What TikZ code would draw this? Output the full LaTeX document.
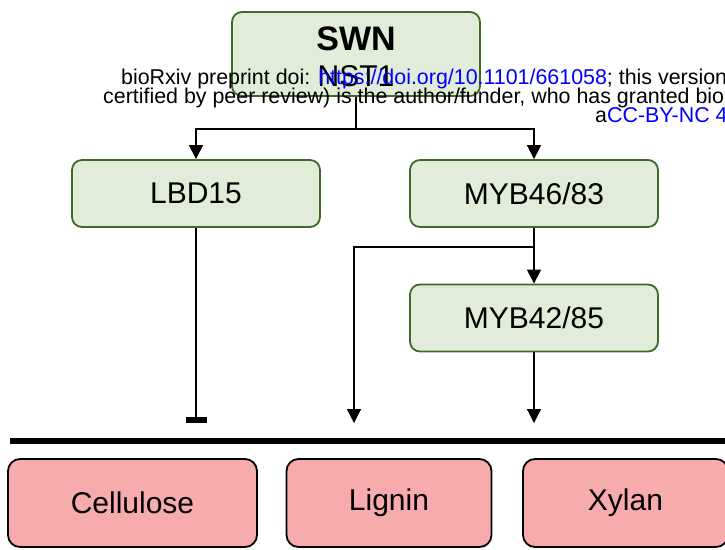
\documentclass[tikz,border=0pt]{standalone}
\usepackage{fontspec}
\setmainfont{Liberation Sans}
\usetikzlibrary{arrows.meta}
\definecolor{gfill}{HTML}{E1EDD9}
\definecolor{gline}{HTML}{3E6A2B}
\definecolor{pfill}{HTML}{F7ABAD}
\definecolor{linkblue}{HTML}{0000FF}
\tikzset{
  gbox/.style={draw=gline, fill=gfill, line width=1.8pt, rounded corners=10pt,
    minimum width=248pt, minimum height=67pt, inner sep=0pt,
    font=\fontsize{30}{36}\selectfont},
  pbox/.style={draw=black, fill=pfill, line width=1.8pt, rounded corners=12pt,
    minimum height=88pt, inner sep=0pt, font=\fontsize{30}{36}\selectfont},
  conn/.style={line width=1.3pt},
  arr/.style={conn, -{Triangle[length=14pt,width=14pt]}},
  inhib/.style={conn, -{Rectangle[length=6pt,width=21pt]}},
  wm/.style={inner sep=0pt, anchor=base west, font=\fontsize{21.4}{24}\selectfont},
}
\begin{document}
\begin{tikzpicture}[x=1pt,y=-1pt]
\useasboundingbox (0,0) rectangle (725,549);
\clip (0,0) rectangle (725,549);
\fill[white] (0,0) rectangle (725,549);

% regulators
\node[gbox, minimum height=84pt] (swn) at (356,54) {};
\node[inner sep=0pt, anchor=base, font=\fontsize{34}{40}\selectfont\bfseries] (swnA) at (356,50) {SWN};
\node[inner sep=0pt, anchor=base, font=\fontsize{30}{36}\selectfont] (swnB) at (356,86) {NST1};
\node[gbox] (lbd) at (196,193.5) {LBD15};
\node[gbox] (m46) at (534,193.5) {MYB46/83};
\node[gbox] (m42) at (534,318) {MYB42/85};

% cell wall components
\node[pbox, minimum width=249pt] (cel) at (132.5,503) {Cellulose};
\node[pbox, minimum width=205pt] (lig) at (389,503) {Lignin};
\node[pbox, minimum width=205pt] (xyl) at (625.5,503) {Xylan};

% connectors
\coordinate (split) at (356,129);
\draw[conn] (swn.south) -- (split);
\draw[arr] (split) -| (lbd.north);
\draw[arr] (split) -| (m46.north);

\coordinate (fork) at (534,247);
\coordinate (ligEnd) at (354,423);
\coordinate (xylEnd) at (534,423);
\coordinate (celEnd) at (196,423);
\draw[conn] (m46.south) -- (fork);
\draw[arr] (fork) -- (m42.north);
\draw[arr] (fork) -| (ligEnd);
\draw[arr] (m42.south) -- (xylEnd);
\draw[inhib] (lbd.south) -- (celEnd);

% wall boundary
\coordinate (wallL) at (10,441);
\coordinate (wallR) at (725,441);
\draw[line width=6pt] (wallL) -- (wallR);

% preprint stamp
\node[wm] (wm1) at (121,84) {bioRxiv preprint doi: \textcolor{linkblue}{https://doi.org/10.1101/661058}; this version};
\node[wm] (wm2) at (103,103) {certified by peer review) is the author/funder, who has granted bio};
\node[wm] (wm3) at (595,122) {a\textcolor{linkblue}{CC-BY-NC 4}};
\end{tikzpicture}
\end{document}
